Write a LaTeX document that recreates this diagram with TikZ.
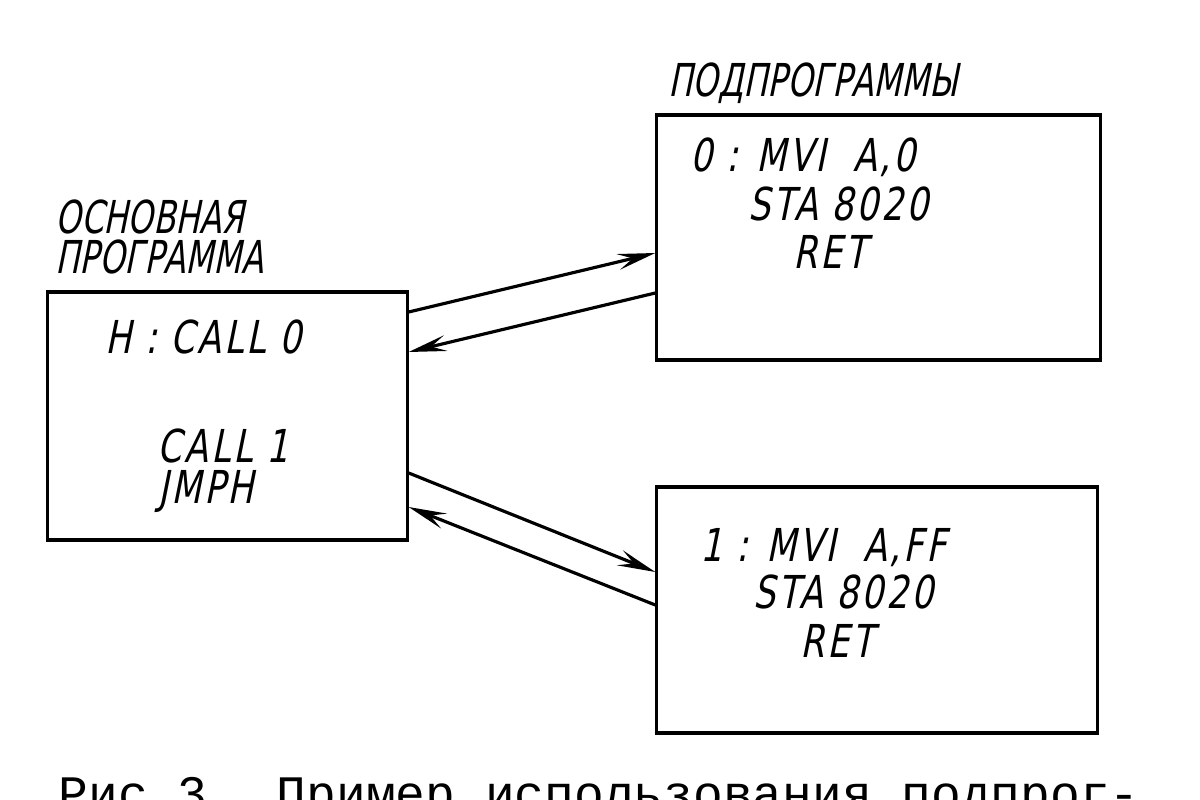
\documentclass[tikz,border=0pt]{standalone}
\usepackage{fontspec}
\usetikzlibrary{arrows.meta}
\newfontfamily\gostfont{DejaVu Sans Condensed}[FakeSlant=0.2,FakeStretch=0.79]
\newfontfamily\codefont{DejaVu Sans Condensed}[FakeSlant=0.2,FakeStretch=0.85,LetterSpace=6]
\newfontfamily\capfont{Liberation Mono}
\tikzstyle{prog}=[draw, line width=0.9pt, inner sep=0pt]
\tikzstyle{title}=[anchor=base west, inner sep=0pt, font=\gostfont\fontsize{12.9}{15}\selectfont]
\tikzstyle{txt}=[anchor=base west, inner sep=0pt, font=\codefont\fontsize{12.9}{15}\selectfont]
\tikzstyle{jump}=[line width=0.9pt, -{Stealth[length=3.8mm,width=1.6mm,inset=1.5mm]}]
\newcommand{\prog}{\node[prog]}
\newcommand{\txt}{\node[txt]}

\begin{document}
\begin{tikzpicture}[x=0.01cm, y=-0.01cm]
                    \useasboundingbox (0,0) rectangle (1200,800);
                    \prog (main) at (227.5,416) [minimum width=3.59cm, minimum height=2.48cm]{};
                    \prog (sub0) at (878.5,237.5) [minimum width=4.43cm, minimum height=2.45cm]{};
                    \prog (sub1) at (877,610) [minimum width=4.40cm, minimum height=2.46cm]{};
                    \node[title] (mainA) at (55,233) {ОСНОВНАЯ};
                    \node[title] (mainB) at (55,273) {ПРОГРАММА};
                    \node[title] (subs) at (668,97) {ПОДПРОГРАММЫ};
                    \txt (m1) at (105,353) {H : CALL 0};
                    \txt (m2) at (157,462) {CALL 1};
                    \txt (m3) at (158,503) {JMPH};
                    \txt (a1) at (690,171) {0 : MVI~~A,0};
                    \txt (a2) at (748,220) {STA 8020};
                    \txt (a3) at (793,268) {RET};
                    \txt (b1) at (700,561) {1 : MVI~~A,FF};
                    \txt (b2) at (753,608) {STA 8020};
                    \txt (b3) at (800,657) {RET};
                    \path[jump]
                        (main.east |- 0,312) edge (sub0.west |- 0,253)
                        (sub0.west |- 0,293) edge (main.east |- 0,352)
                        (main.east |- 0,473) edge (sub1.west |- 0,572)
                        (sub1.west |- 0,605) edge (main.east |- 0,507)
                    ;
                    \node (fig) at (58,810) [anchor=base west, inner sep=0pt, font=\capfont\fontsize{14.1}{16}\selectfont]{Рис.3. Пример использования подпрог-};
                \end{tikzpicture}
\end{document}
